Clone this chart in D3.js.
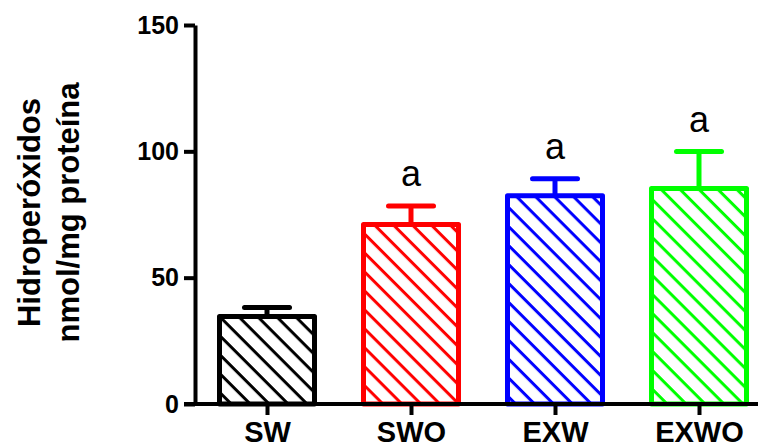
<!DOCTYPE html>
<html>
<head>
<meta charset="utf-8">
<script src="https://cdn.jsdelivr.net/npm/d3@7"></script>
<style>
  body { margin: 0; background: #fff; }
  svg { display: block; font-family: "Liberation Sans", Arial, sans-serif; }
</style>
</head>
<body>
<div id="chart_bar"></div>
<script>
// values
const categories = ["SW", "SWO", "EXW", "EXWO"];
const means = [34.6, 71.0, 82.4, 85.3];
const errors = [3.6, 7.4, 6.7, 14.6];
const marks = ["", "a", "a", "a"];
const colors = ["#000000", "#ff0000", "#0000ff", "#00ff00"];
const yTicks = [0, 50, 100, 150];

const width = 760;
const height = 447;

const svg = d3.select("div#chart_bar")
  .append("svg")
  .attr("width", width)
  .attr("height", height);

const x = d3.scalePoint()
  .domain(categories)
  .range([267, 699]);

const y = d3.scaleLinear()
  .domain([0, 150])
  .range([404, 25]);

const barWidth = 95;

// hatch patterns, one per colour
const defs = svg.append("defs");
colors.forEach((c, i) => {
  const p = defs.append("pattern")
    .attr("id", "hatch-" + i)
    .attr("patternUnits", "userSpaceOnUse")
    .attr("width", 13.4)
    .attr("height", 13.4)
    .attr("patternTransform", "rotate(45)");
  p.append("rect")
    .attr("x", 0)
    .attr("y", 0)
    .attr("width", 13.4)
    .attr("height", 3)
    .attr("fill", c);
});

const data = categories.map((name, i) => ({
  name: name, value: means[i], err: errors[i], mark: marks[i], color: colors[i], i: i
}));

// error bars (drawn under the bars)
svg.selectAll(".stem")
  .data(data)
  .enter()
  .append("line")
  .attr("class", "stem")
  .attr("x1", d => x(d.name))
  .attr("x2", d => x(d.name))
  .attr("y1", d => y(d.value))
  .attr("y2", d => y(d.value + d.err))
  .attr("stroke", d => d.color)
  .attr("stroke-width", 5);

svg.selectAll(".cap")
  .data(data)
  .enter()
  .append("line")
  .attr("class", "cap")
  .attr("x1", d => x(d.name) - 22.5)
  .attr("x2", d => x(d.name) + 22.5)
  .attr("y1", d => y(d.value + d.err))
  .attr("y2", d => y(d.value + d.err))
  .attr("stroke", d => d.color)
  .attr("stroke-width", 5)
  .attr("stroke-linecap", "round");

// bars
svg.selectAll(".bar")
  .data(data)
  .enter()
  .append("rect")
  .attr("class", "bar")
  .attr("x", d => x(d.name) - barWidth / 2)
  .attr("y", d => y(d.value))
  .attr("width", barWidth)
  .attr("height", d => y(0) - y(d.value))
  .attr("fill", d => "url(#hatch-" + d.i + ")")
  .attr("stroke", d => d.color)
  .attr("stroke-width", 5)
  .attr("stroke-linejoin", "round");

// significance letters
svg.selectAll(".mark")
  .data(data.filter(d => d.mark))
  .enter()
  .append("text")
  .attr("class", "mark")
  .attr("x", d => x(d.name))
  .attr("y", d => y(d.value + d.err) - 20)
  .attr("text-anchor", "middle")
  .attr("font-size", "36px")
  .attr("fill", "#000")
  .text(d => d.mark);

// x axis
const xAxis = svg.append("g")
  .attr("transform", "translate(0," + y(0) + ")")
  .call(d3.axisBottom(x).tickSize(11).tickPadding(6).tickSizeOuter(0));
xAxis.select(".domain").remove();
xAxis.append("line")
  .attr("x1", 184)
  .attr("x2", 758)
  .attr("stroke", "#000")
  .attr("stroke-width", 4);
xAxis.selectAll(".tick line")
  .attr("stroke", "#000")
  .attr("stroke-width", 4);
xAxis.selectAll(".tick text")
  .attr("fill", "#000")
  .attr("dy", "0.71em")
  .style("font-size", "29px")
  .style("font-weight", "bold");

// y axis
const yAxis = svg.append("g")
  .attr("transform", "translate(195,0)")
  .call(d3.axisLeft(y).tickValues(yTicks).tickSize(11).tickPadding(5).tickSizeOuter(0));
yAxis.select(".domain")
  .attr("stroke", "#000")
  .attr("stroke-width", 4)
  .attr("stroke-linejoin", "miter");
yAxis.selectAll(".tick line")
  .attr("stroke", "#000")
  .attr("stroke-width", 4);
yAxis.selectAll(".tick text")
  .attr("fill", "#000")
  .style("font-size", "25px")
  .style("font-weight", "bold");

// y title, two lines
const title = svg.append("text")
  .attr("transform", "translate(40,212.5) rotate(-90)")
  .attr("text-anchor", "middle")
  .attr("font-size", "31px")
  .attr("font-weight", "bold")
  .attr("fill", "#000");
title.append("tspan").attr("x", 0).attr("y", 0).text("Hidroperóxidos");
title.append("tspan").attr("x", 0).attr("y", 39).text("nmol/mg proteína");
</script>
</body>
</html>
